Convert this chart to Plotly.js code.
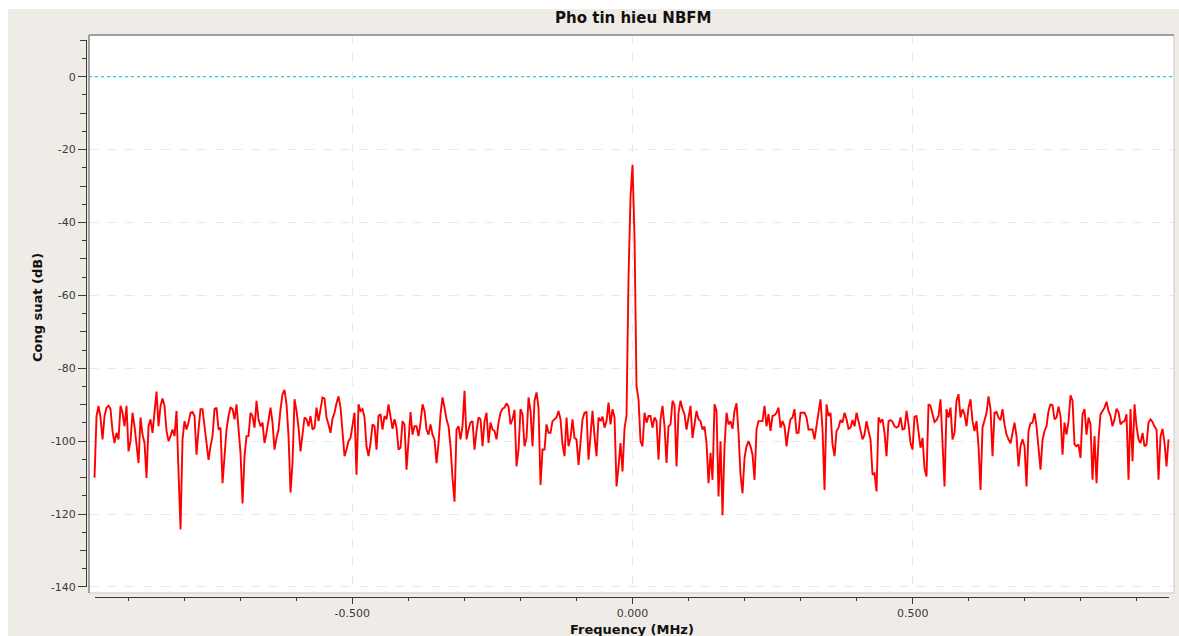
<!DOCTYPE html>
<html><head><meta charset="utf-8">
<script src="https://cdn.plot.ly/plotly-3.0.1.min.js"></script>
<style>
html,body{margin:0;padding:0;background:#ffffff;width:1179px;height:636px;overflow:hidden;}
#chart{position:absolute;left:8px;top:9px;width:1171px;height:627px;}
</style></head><body><div id="chart"></div>
<script>
const chartTitle = "Pho tin hieu NBFM";
const xTitle = "Frequency (MHz)";
const yTitle = "Cong suat (dB)";

// frequency grid of the spectrum (MHz)
const fStartMHz = -0.96;
const fStepMHz = 0.0035689;

// power spectrum (dB), left to right
const psdSeg1 = [
-110.0,-93.1,-90.3,-93.5,-99.5,-93.1,-90.8,-90.3,-91.2,-97.2,
-100.5,-97.7,-99.5,-90.3,-92.2,-95.9,-90.3,-102.8,-100.0,-92.2,
-95.9,-101.4,-106.0,-93.5,-98.2,-100.5,-110.1,-95.9,-94.0,-97.7,
-92.2,-86.4,-95.9,-90.3,-88.3,-90.3,-97.2,-100.0,-98.6,-96.8,
-98.6,-91.7,-108.3,-124.2,-99.5,-94.5,-96.8,-94.9,-92.2,-92.0,
-93.1,-103.7,-96.8,-91.2,-91.2,-95.9,-99.1,-105.1,-101.4,-98.6,
-91.2,-90.8,-96.8,-96.3,-111.5,-102.8,-96.8,-93.1,-90.8,-91.2,
-94.0,-89.9,-97.7,-103.2,-117.1,-104.1,-98.6,-98.6,-92.2,-93.1,
-96.3,-88.9,-94.0,-95.9,-94.9,-100.5,-97.7,-93.5];
const psdSeg2 = [
-90.8,-94.9,-102.3,-99.1,-96.8,-91.2,-87.1,-85.9,-89.9,-98.6,
-114.1,-106.0,-88.5,-91.7,-96.3,-102.8,-98.6,-93.5,-94.0,-95.9,
-93.1,-96.8,-96.3,-90.8,-94.5,-91.2,-88.0,-88.3,-93.5,-95.4,
-97.7,-93.8,-92.2,-89.6,-87.7,-90.8,-98.6,-104.1,-102.3,-100.0,
-99.1,-95.9,-92.2,-109.2,-89.9,-91.7,-91.2,-93.5,-101.4,-104.1,
-100.5,-95.4,-95.9,-102.3,-93.1,-92.6,-96.8,-93.1,-94.0,-89.9,
-93.1,-96.6,-94.0,-96.3,-102.3,-101.8,-94.5,-95.4,-107.8,-100.5,
-92.0,-98.2,-95.9,-95.9,-98.6,-94.9,-89.9,-91.7,-96.8,-98.2,
-95.4,-98.2,-99.5,-106.0,-100.5,-92.6,-88.0,-90.8,-94.0,-95.9];
const psdSeg3 = [
-101.4,-110.1,-116.6,-96.8,-95.9,-99.5,-95.9,-86.2,-99.5,-96.8,
-94.9,-94.5,-102.3,-97.2,-93.5,-94.0,-101.4,-94.5,-92.2,-100.5,
-94.9,-96.8,-97.2,-99.5,-94.9,-92.2,-91.1,-90.8,-89.6,-90.5,
-95.4,-94.0,-91.4,-106.9,-102.3,-91.2,-92.6,-101.4,-99.1,-88.0,
-91.7,-101.4,-88.9,-86.6,-90.8,-112.0,-102.3,-102.3,-95.4,-97.7,
-97.7,-94.5,-94.0,-93.5,-91.7,-94.0,-100.9,-104.1,-93.5,-101.4,
-99.1,-94.0,-99.1,-99.5,-106.5,-100.5,-94.0,-92.2,-92.0,-105.1,
-97.7,-91.7,-98.6,-104.1,-93.5,-94.5,-93.3,-96.3,-94.5,-89.4,
-95.4,-91.2,-93.5,-112.4,-106.9,-100.5,-108.3,-96.5,-93.0,-55.0];
const psdSeg4 = [
-33.0,-24.2,-44.0,-85.0,-88.5,-100.0,-101.4,-92.2,-94.9,-93.1,
-93.1,-96.3,-93.5,-94.5,-105.1,-94.0,-90.3,-95.9,-106.0,-95.9,
-95.4,-88.9,-90.1,-106.9,-92.2,-88.9,-91.2,-92.6,-96.8,-93.5,
-90.3,-99.1,-94.9,-91.7,-94.0,-94.5,-96.8,-96.0,-100.5,-111.5,
-103.2,-110.6,-89.9,-91.7,-115.2,-100.0,-120.3,-101.4,-92.2,-95.4,
-94.5,-96.6,-91.7,-89.6,-97.7,-109.2,-114.3,-104.6,-101.4,-100.0,
-101.4,-103.7,-110.6,-96.8,-94.5,-94.5,-94.5,-90.3,-95.9,-92.6,
-97.2,-93.1,-92.9,-92.2,-90.8,-96.3,-94.5,-95.9,-101.4,-97.2,
-94.0,-93.5,-91.2,-97.7,-97.7,-92.2,-92.2,-92.2,-93.5,-96.8];
const psdSeg5 = [
-96.8,-96.8,-99.5,-95.9,-91.2,-88.5,-96.8,-113.4,-89.9,-93.1,
-92.2,-100.9,-104.1,-97.2,-96.3,-94.2,-94.9,-92.2,-94.0,-96.6,
-96.3,-94.2,-95.9,-92.2,-94.5,-96.8,-99.5,-98.2,-94.5,-97.2,
-99.5,-109.2,-108.8,-113.8,-93.5,-94.7,-94.0,-97.7,-104.1,-94.5,
-94.2,-94.7,-95.9,-96.3,-95.9,-93.5,-96.8,-96.6,-91.7,-95.4,
-100.5,-102.3,-93.3,-93.1,-97.7,-101.8,-99.1,-107.4,-109.7,-89.9,
-90.3,-92.2,-94.7,-94.2,-93.1,-88.5,-102.3,-112.4,-91.2,-93.5,
-90.8,-99.5,-97.7,-88.9,-87.1,-93.5,-91.2,-92.6,-95.9,-90.8,
-88.5,-94.5,-97.2,-94.5,-101.4,-113.4,-96.3,-94.5,-92.2,-87.7];
const psdSeg6 = [
-91.2,-104.1,-92.2,-92.0,-93.5,-94.2,-91.2,-95.4,-98.2,-99.5,
-100.6,-97.7,-94.9,-98.6,-106.9,-101.4,-99.5,-101.4,-112.4,-97.2,
-95.1,-94.9,-92.3,-95.9,-102.8,-107.8,-99.7,-97.2,-95.9,-91.7,
-89.9,-90.1,-94.0,-93.5,-90.5,-93.1,-103.7,-94.9,-98.2,-94.5,
-87.4,-88.9,-100.9,-101.4,-100.9,-104.6,-92.6,-91.2,-98.2,-93.5,
-95.4,-110.6,-98.6,-111.5,-99.5,-92.6,-91.7,-90.8,-89.2,-91.7,
-93.1,-95.9,-94.0,-91.1,-92.0,-95.4,-94.7,-94.5,-92.6,-110.6,
-91.2,-105.5,-89.9,-95.9,-99.5,-100.5,-97.7,-101.4,-100.9,-94.9,
-94.0,-94.7,-96.0,-96.8,-110.6,-98.6,-96.6,-100.5,-106.9,-99.5];

const refLevelDb = 0;

const yMajorTicks = [0,-20,-40,-60,-80,-100,-120,-140];
const yMajorLabels = ["0","-20","-40","-60","-80","-100","-120","-140"];
const yMediumTicks = [10,-10,-30,-50,-70,-90,-110,-130];
const xMajorTicks = [-0.5,0,0.5];
const xMajorLabels = ["-0.500","0.000","0.500"];

const psd = [].concat(psdSeg1,psdSeg2,psdSeg3,psdSeg4,psdSeg5,psdSeg6);
const freq = psd.map((_,i)=> fStartMHz + i*fStepMHz);

const FONT = "DejaVu Sans, Verdana, sans-serif";
const AX = "#3a3a3a";

// plot geometry (paper fractions)
const cx0 = 0.002757, cy0 = 0.007117;

const traces = [
  {x:freq, y:psd, type:'scatter', mode:'lines', line:{color:'#ff0000', width:1.9},
   xaxis:'x', yaxis:'y', hoverinfo:'skip', showlegend:false},
  {x:[], y:[], type:'scatter', mode:'lines', xaxis:'x2', yaxis:'y2', showlegend:false, hoverinfo:'skip'},
  {x:[], y:[], type:'scatter', mode:'lines', xaxis:'x2', yaxis:'y3', showlegend:false, hoverinfo:'skip'}
];

const layout = {
  width:1171, height:627,
  margin:{l:78, r:5, t:26, b:39, pad:0},
  paper_bgcolor:'#EFEBE7',
  plot_bgcolor:'rgba(0,0,0,0)',
  showlegend:false,
  title:{text:chartTitle, font:{family:FONT, size:15, weight:'bold', color:'#111'},
         x:0.503, xref:'paper', xanchor:'center', y:0.9856, yref:'container', yanchor:'middle'},
  xaxis:{domain:[cx0,1], range:[-0.96985,0.96628], anchor:'y',
         tickmode:'array', tickvals:xMajorTicks, showticklabels:false, ticks:'',
         showgrid:true, gridcolor:'#e8e8e8', griddash:'dash', gridwidth:1,
         zeroline:false, showline:false, fixedrange:true},
  yaxis:{domain:[cy0,1], range:[-141.65,11.44], anchor:'x',
         tickmode:'array', tickvals:yMajorTicks, showticklabels:false, ticks:'',
         showgrid:true, gridcolor:'#e8e8e8', griddash:'dash', gridwidth:1,
         zeroline:false, showline:false, fixedrange:true},
  xaxis2:{domain:[0.008272,0.995404], range:[-0.95914,0.95735], anchor:'free', position:0, side:'bottom',
          showline:true, linecolor:AX, linewidth:1,
          tickmode:'array', tickvals:xMajorTicks, ticktext:xMajorLabels,
          ticks:'outside', ticklen:6, tickwidth:1, tickcolor:AX,
          tickfont:{family:FONT, size:11, color:AX},
          minor:{dtick:0.1, tick0:0, ticks:'outside', ticklen:3, tickwidth:1, tickcolor:AX, showgrid:false},
          showgrid:false, zeroline:false, fixedrange:true},
  yaxis2:{domain:[0.01779,0.99066], range:[-140,10], anchor:'free', position:0, side:'left',
          showline:true, linecolor:AX, linewidth:1,
          tickmode:'array', tickvals:yMajorTicks, ticktext:yMajorLabels,
          ticks:'outside', ticklen:8, tickwidth:1, tickcolor:AX,
          tickfont:{family:FONT, size:11, color:AX},
          minor:{dtick:5, tick0:0, ticks:'outside', ticklen:4, tickwidth:1, tickcolor:AX, showgrid:false},
          showgrid:false, zeroline:false, fixedrange:true},
  yaxis3:{overlaying:'y2', range:[-140,10], anchor:'free', position:0, side:'left',
          showline:false, tickmode:'array', tickvals:yMediumTicks, showticklabels:false,
          ticks:'outside', ticklen:6, tickwidth:1, tickcolor:AX,
          showgrid:false, zeroline:false, fixedrange:true},
  shapes:[
    {type:'rect', xref:'paper', yref:'paper', x0:cx0, x1:1, y0:cy0, y1:1,
     fillcolor:'#ffffff', line:{width:0}, layer:'below'},
    {type:'line', xref:'paper', yref:'y', x0:cx0, x1:1, y0:refLevelDb, y1:refLevelDb,
     line:{color:'#30cccc', width:1.3, dash:'dot'}, layer:'above'},
    {type:'line', xref:'paper', yref:'paper', x0:cx0, x1:1, y0:cy0, y1:cy0,
     line:{color:'#d8d8d8', width:1.5}, layer:'above'},
    {type:'line', xref:'paper', yref:'paper', x0:1, x1:1, y0:cy0, y1:1,
     line:{color:'#d8d8d8', width:1.5}, layer:'above'},
    {type:'line', xref:'paper', yref:'paper', x0:cx0, x1:1, y0:1, y1:1,
     line:{color:'#a0a0a0', width:2}, layer:'above'},
    {type:'line', xref:'paper', yref:'paper', x0:cx0, x1:cx0, y0:cy0, y1:1,
     line:{color:'#a0a0a0', width:2}, layer:'above'}
  ],
  annotations:[
    {text:yTitle, xref:'paper', yref:'paper', x:-0.04504, y:0.516, xanchor:'center', yanchor:'middle',
     textangle:-90, showarrow:false, font:{family:FONT, size:13, weight:'bold', color:'#111'}},
    {text:xTitle, xref:'paper', yref:'paper', x:0.5018, y:-0.041, xanchor:'center', yanchor:'top',
     showarrow:false, font:{family:FONT, size:13, weight:'bold', color:'#111'}}
  ]
};

Plotly.newPlot('chart', traces, layout, {staticPlot:true, displayModeBar:false});
</script></body></html>
